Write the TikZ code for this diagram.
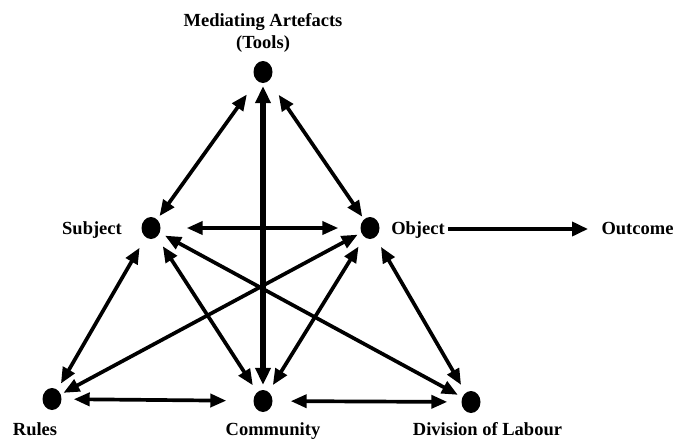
\documentclass[tikz,border=0pt]{standalone}
\usepackage{fontspec}
\setmainfont{Liberation Serif}
\usetikzlibrary{arrows.meta,shapes.geometric}
\begin{document}
\begin{tikzpicture}[x=1pt,y=-1pt,
  dot/.style={ellipse,fill=black,draw=none,minimum width=19pt,minimum height=22pt,inner sep=0pt},
  lbl/.style={font=\fontsize{18.5}{21.5}\selectfont\bfseries,inner sep=0pt,anchor=base,align=center},
  conn/.style={line width=3.7pt,{Triangle[length=16pt,width=13pt]}-{Triangle[length=16pt,width=13pt]}},
  thickconn/.style={line width=5.2pt,{Triangle[length=17pt,width=15pt]}-{Triangle[length=17pt,width=15pt]}},
  oneway/.style={line width=3.7pt,-{Triangle[length=16pt,width=14pt]}}]
\useasboundingbox (0,0) rectangle (676,439);
% dots
\node[dot] (T) at (263,72) {};
\node[dot] (S) at (151,228) {};
\node[dot] (O) at (370,228) {};
\node[dot] (R) at (52,399) {};
\node[dot] (C) at (263,401) {};
\node[dot] (D) at (471,402) {};
% labels
\node[lbl] (tl) at (263,48) {Mediating Artefacts\\(Tools)};
\node[lbl] (sl) at (92,234) {Subject};
\node[lbl] (ol) at (418,234) {Object};
\node[lbl] (outl) at (637.5,234) {Outcome};
\node[lbl] (rl) at (35,435) {Rules};
\node[lbl] (cl) at (273,435) {Community};
\node[lbl] (dl) at (487.5,435) {Division of Labour};
% connectors
\draw[conn,shorten <=17pt,shorten >=4pt] (T) -- (S);
\draw[conn,shorten <=17pt,shorten >=3pt] (T) -- (O);
\draw[thickconn,shorten <=3pt,shorten >=5pt] (T) -- (C);
\draw[conn,shorten <=26pt,shorten >=22pt] (S) -- (O);
\draw[conn,shorten <=12pt,shorten >=7pt] (S) -- (R);
\draw[conn,shorten <=11pt,shorten >=8pt] (S) -- (C);
\draw[conn,shorten <=6pt,shorten >=5pt] (S) -- (D);
\draw[conn,shorten <=4pt,shorten >=3pt] (O) -- (R);
\draw[conn,shorten <=11pt,shorten >=8pt] (O) -- (C);
\draw[conn,shorten <=11pt,shorten >=9pt] (O) -- (D);
\draw[conn,shorten <=12pt,shorten >=27pt] (R) -- (C);
\draw[conn,shorten <=18pt,shorten >=14pt] (C) -- (D);
\coordinate (outend) at (588,229);
\draw[oneway] (ol.east |- outend) ++(3,0) -- (outend);
\end{tikzpicture}
\end{document}
